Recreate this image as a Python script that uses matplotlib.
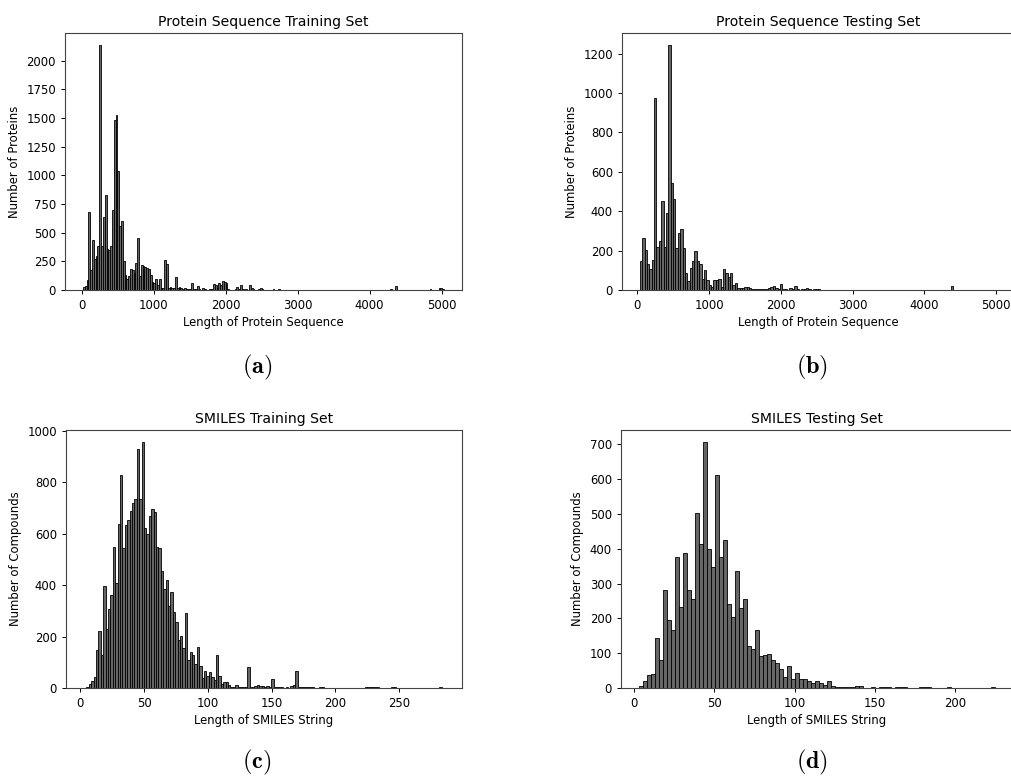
import numpy as np
import matplotlib
matplotlib.use("Agg")
import matplotlib.pyplot as plt

plt.rcParams['font.family'] = ['DejaVu Sans']
plt.rcParams['mathtext.fontset'] = 'cm'

# ---------------- data (bin counts) ----------------
prot_train_range = (19, 5032)
prot_train_counts = [
    25, 35, 88, 683, 175, 438, 270, 300, 385, 2136,
    380, 640, 826, 358, 350, 385, 694, 1483, 1524, 1042,
    560, 598, 250, 130, 100, 120, 180, 175, 150, 233,
    450, 120, 220, 210, 200, 190, 180, 130, 72, 60,
    100, 40, 100, 15, 20, 263, 228, 20, 25, 15,
    20, 110, 20, 25, 15, 12, 15, 10, 8, 12,
    58, 8, 5, 35, 5, 3, 15, 8, 3, 3,
    5, 5, 50, 45, 20, 60, 40, 82, 70, 58,
    5, 3, 2, 3, 5, 29, 10, 44, 5, 3,
    5, 3, 44, 15, 5, 3, 2, 5, 20, 8,
    3, 2, 2, 3, 2, 10, 2, 3, 10, 2,
    1, 2, 1, 1, 0, 1, 2, 1, 0, 2,
    1, 0, 1, 0, 1, 1, 0, 1, 0, 0,
    1, 0, 0, 2, 0, 1, 0, 0, 1, 0,
    0, 1, 0, 0, 0, 1, 0, 0, 1, 0,
    0, 0, 1, 0, 0, 0, 1, 0, 0, 0,
    1, 0, 0, 0, 1, 0, 0, 1, 0, 2,
    10, 3, 2, 35, 1, 0, 1, 0, 2, 0,
    0, 1, 0, 0, 1, 0, 0, 0, 1, 0,
    0, 1, 10, 0, 0, 1, 2, 15, 15, 5,
]

prot_test_range = (34, 5000)
prot_test_counts = [
    149, 262, 203, 132, 106, 152, 976, 220, 250, 453,
    220, 393, 1242, 545, 460, 212, 291, 308, 212, 87,
    47, 110, 148, 200, 148, 133, 54, 99, 50, 26,
    17, 51, 51, 57, 17, 106, 87, 67, 85, 26,
    37, 10, 8, 10, 17, 17, 8, 5, 3, 4,
    6, 3, 3, 4, 8, 17, 20, 10, 3, 28,
    5, 3, 2, 10, 3, 20, 3, 2, 3, 4,
    8, 3, 2, 5, 3, 6, 2, 1, 2, 1,
    1, 0, 1, 2, 1, 2, 0, 1, 0, 0,
    1, 0, 0, 1, 0, 0, 1, 0, 0, 0,
    1, 2, 1, 0, 0, 0, 1, 0, 0, 0,
    0, 1, 0, 0, 0, 0, 1, 0, 0, 0,
    0, 0, 1, 0, 0, 0, 0, 0, 1, 0,
    2, 20, 1, 0, 0, 0, 0, 1, 0, 0,
    0, 0, 1, 0, 0, 0, 0, 0, 0, 2,
]

smiles_train_range = (3, 285)
smiles_train_counts = [
    0, 3, 14, 27, 41, 146, 220, 129, 395, 228,
    308, 360, 549, 407, 640, 830, 546, 636, 653, 688,
    718, 735, 930, 735, 956, 623, 601, 670, 698, 685,
    549, 545, 456, 384, 420, 319, 375, 297, 258, 185,
    203, 155, 291, 107, 140, 128, 94, 158, 84, 39,
    68, 45, 62, 41, 30, 127, 45, 17, 23, 23,
    10, 4, 2, 13, 4, 4, 2, 2, 80, 4,
    3, 8, 10, 8, 6, 5, 6, 5, 36, 4,
    3, 2, 2, 1, 2, 1, 9, 10, 67, 4,
    3, 4, 3, 2, 3, 2, 1, 1, 4, 3,
    1, 0, 1, 1, 0, 1, 0, 0, 1, 0,
    0, 1, 0, 0, 1, 0, 0, 3, 2, 3,
    2, 3, 2, 0, 0, 1, 0, 0, 2, 2,
    1, 0, 0, 0, 1, 0, 0, 0, 0, 1,
    0, 0, 0, 0, 1, 0, 0, 0, 2, 1,
]

smiles_test_range = (3, 225)
smiles_test_counts = [
    5, 21, 38, 40, 143, 81, 281, 195, 167, 375,
    234, 388, 281, 257, 504, 415, 706, 399, 348, 612,
    376, 426, 240, 205, 337, 231, 255, 122, 111, 167,
    91, 95, 97, 81, 72, 55, 31, 62, 27, 43,
    25, 25, 21, 15, 20, 14, 10, 19, 5, 4,
    3, 3, 2, 2, 6, 6, 1, 1, 2, 1,
    3, 4, 2, 1, 2, 2, 4, 1, 1, 1,
    2, 2, 3, 1, 0, 1, 0, 4, 1, 0,
    1, 0, 0, 1, 0, 0, 1, 0, 3,
]

titles = ["Protein Sequence Training Set", "Protein Sequence Testing Set",
          "SMILES Training Set", "SMILES Testing Set"]
xlabels = ["Length of Protein Sequence", "Length of Protein Sequence",
           "Length of SMILES String", "Length of SMILES String"]
ylabels = ["Number of Proteins", "Number of Proteins",
           "Number of Compounds", "Number of Compounds"]
xticks = [[0, 1000, 2000, 3000, 4000, 5000], [0, 1000, 2000, 3000, 4000, 5000],
          [0, 50, 100, 150, 200, 250], [0, 50, 100, 150, 200]]
yticks = [[0, 250, 500, 750, 1000, 1250, 1500, 1750, 2000],
          [0, 200, 400, 600, 800, 1000, 1200],
          [0, 200, 400, 600, 800, 1000],
          [0, 100, 200, 300, 400, 500, 600, 700]]
captions = ["(a)", "(b)", "(c)", "(d)"]

data = [(prot_train_range, prot_train_counts), (prot_test_range, prot_test_counts),
        (smiles_train_range, smiles_train_counts), (smiles_test_range, smiles_test_counts)]

# ---------------- layout ----------------
W, H = 1011, 778
fig = plt.figure(figsize=(W / 100, H / 100), dpi=100)

boxes = [(65, 33, 462, 290), (622, 33, 1014, 290),
         (66, 430, 462, 688), (621, 430, 1013, 688)]
cap_pos = [(257, 367), (812, 367), (257, 762), (812, 762)]

for k in range(4):
    l, t, r, b = boxes[k]
    ax = fig.add_axes([l / W, 1 - b / H, (r - l) / W, (b - t) / H])
    (lo, hi), counts = data[k]
    counts = np.asarray(counts, dtype=float)
    edges = np.linspace(lo, hi, len(counts) + 1)
    centers = 0.5 * (edges[:-1] + edges[1:])
    ax.hist(centers, bins=edges, weights=counts, color='#666666',
            edgecolor='black', linewidth=0.6)
    ax.set_xticks(xticks[k])
    ax.set_yticks(yticks[k])
    ax.tick_params(labelsize=8.4, length=3, width=0.7)
    ax.set_title(titles[k], fontsize=10.1, pad=5)
    ax.set_xlabel(xlabels[k], fontsize=8.4, labelpad=3)
    ax.set_ylabel(ylabels[k], fontsize=8.4, labelpad=4)
    for sp in ax.spines.values():
        sp.set_linewidth(0.8)
        sp.set_color('#444444')
    cx, cy = cap_pos[k]
    fig.text(cx / W, 1 - cy / H, r'$\mathbf{' + captions[k] + '}$',
             ha='center', va='center', fontsize=17.5)

fig.savefig("out.png", dpi=100)
